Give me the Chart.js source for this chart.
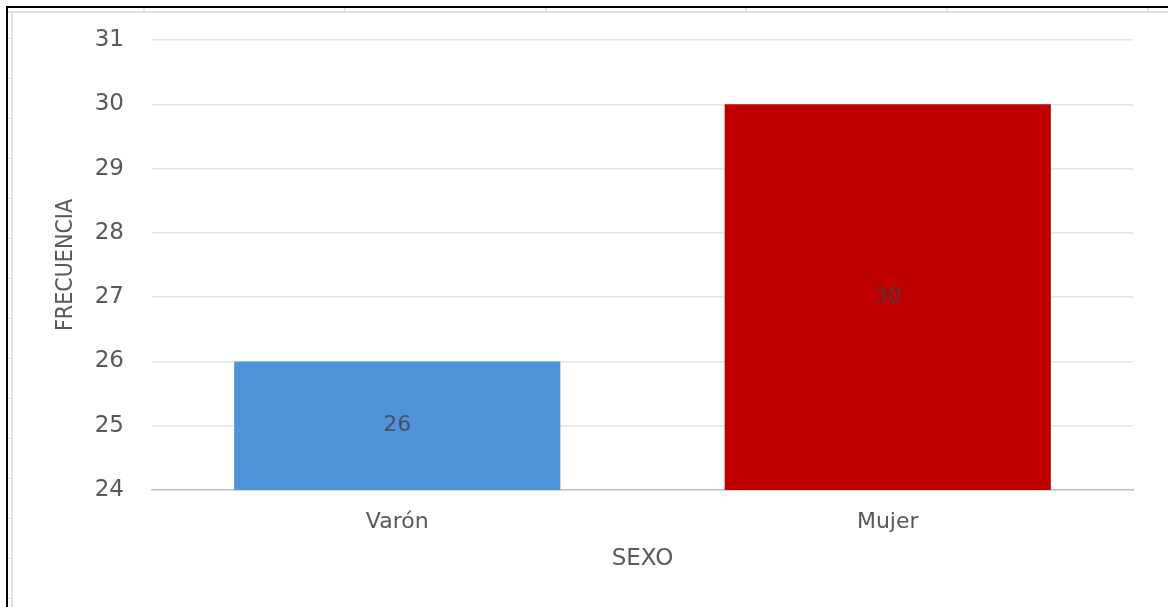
<!DOCTYPE html>
<html lang="es">
<head>
<meta charset="UTF-8">
<title>Frecuencia por sexo</title>
<script src="https://cdn.jsdelivr.net/npm/chart.js"></script>
<style>
  html, body { margin: 0; padding: 0; background: #fff; }
  #wrap { position: relative; width: 1168px; height: 607px; }
</style>
</head>
<body>
<div id="wrap"><canvas id="grafico" width="1168" height="607"></canvas></div>
<script>
// datos
const categorias = ['Varón', 'Mujer'];
const frecuencias = [26, 30];
const coloresBarras = ['#4f94d9', '#c00000'];
const ejeMin = 24;
const ejeMax = 31;

// marco de hoja de cálculo alrededor del gráfico
const marcoHoja = {
  id: 'marcoHoja',
  beforeDraw(chart) {
    const c = chart.ctx;
    c.save();
    c.fillStyle = '#ffffff';
    c.fillRect(0, 0, chart.width, chart.height);
    // líneas grises de celdas
    c.fillStyle = '#e2e2e2';
    c.fillRect(8, 11, chart.width, 2);
    c.fillRect(11, 11, 2, chart.height);
    for (let x = 143; x < chart.width; x += 200.8) c.fillRect(Math.round(x), 8, 2, 4);
    for (let y = 38; y < chart.height; y += 40) c.fillRect(8, Math.round(y), 4, 1);
    // borde negro
    c.fillStyle = '#000000';
    c.fillRect(6, 6, chart.width, 2);
    c.fillRect(6, 6, 2, chart.height);
    c.restore();
  }
};

// valores dentro de cada barra, centrados entre la base y el tope
const etiquetasValor = {
  id: 'etiquetasValor',
  afterDraw(chart) {
    const c = chart.ctx;
    const yScale = chart.scales.y;
    const meta = chart.getDatasetMeta(0);
    const valores = chart.data.datasets[0].data;
    c.save();
    c.font = '22px "DejaVu Sans", sans-serif';
    c.fillStyle = 'rgba(64,64,64,0.78)';
    c.textAlign = 'center';
    c.textBaseline = 'middle';
    meta.data.forEach((bar, i) => {
      const v = valores[i];
      const tope = yScale.getPixelForValue(v);
      const base = yScale.getPixelForValue(yScale.min);
      c.fillText(String(v), bar.x, (tope + base) / 2);
    });
    c.restore();
  }
};

new Chart(document.getElementById('grafico'), {
  type: 'bar',
  data: {
    labels: categorias,
    datasets: [{
      data: frecuencias,
      backgroundColor: coloresBarras,
      borderWidth: 0,
      categoryPercentage: 1,
      barPercentage: 0.665
    }]
  },
  options: {
    responsive: false,
    animation: false,
    layout: { padding: { top: 40, right: 35, bottom: 0, left: 0 } },
    plugins: {
      legend: { display: false },
      tooltip: { enabled: false }
    },
    scales: {
      x: {
        grid: { display: false, drawTicks: false },
        border: { color: '#bfbfbf', width: 1.5 },
        ticks: {
          color: '#595959',
          padding: 19,
          font: { family: '"DejaVu Sans", sans-serif', size: 22 }
        },
        title: {
          display: true,
          text: 'SEXO',
          color: '#595959',
          font: { family: '"DejaVu Sans", sans-serif', size: 23 },
          padding: { top: 0, bottom: 34 }
        },
        afterFit(scale) { scale.height = 117; }
      },
      y: {
        min: ejeMin,
        max: ejeMax,
        grid: { color: '#e6e6e6', lineWidth: 1.5, drawTicks: false },
        border: { display: false },
        ticks: {
          stepSize: 1,
          color: '#595959',
          padding: 28,
          font: { family: '"DejaVu Sans", sans-serif', size: 23, lineHeight: 1 }
        },
        title: {
          display: true,
          text: 'FRECUENCIA',
          color: '#595959',
          font: { family: '"DejaVu Sans Condensed", "DejaVu Sans", sans-serif', size: 23 },
          padding: { top: 52, bottom: 0 }
        },
        afterFit(scale) { scale.width = 152; }
      }
    }
  },
  plugins: [marcoHoja, etiquetasValor]
});
</script>
</body>
</html>
